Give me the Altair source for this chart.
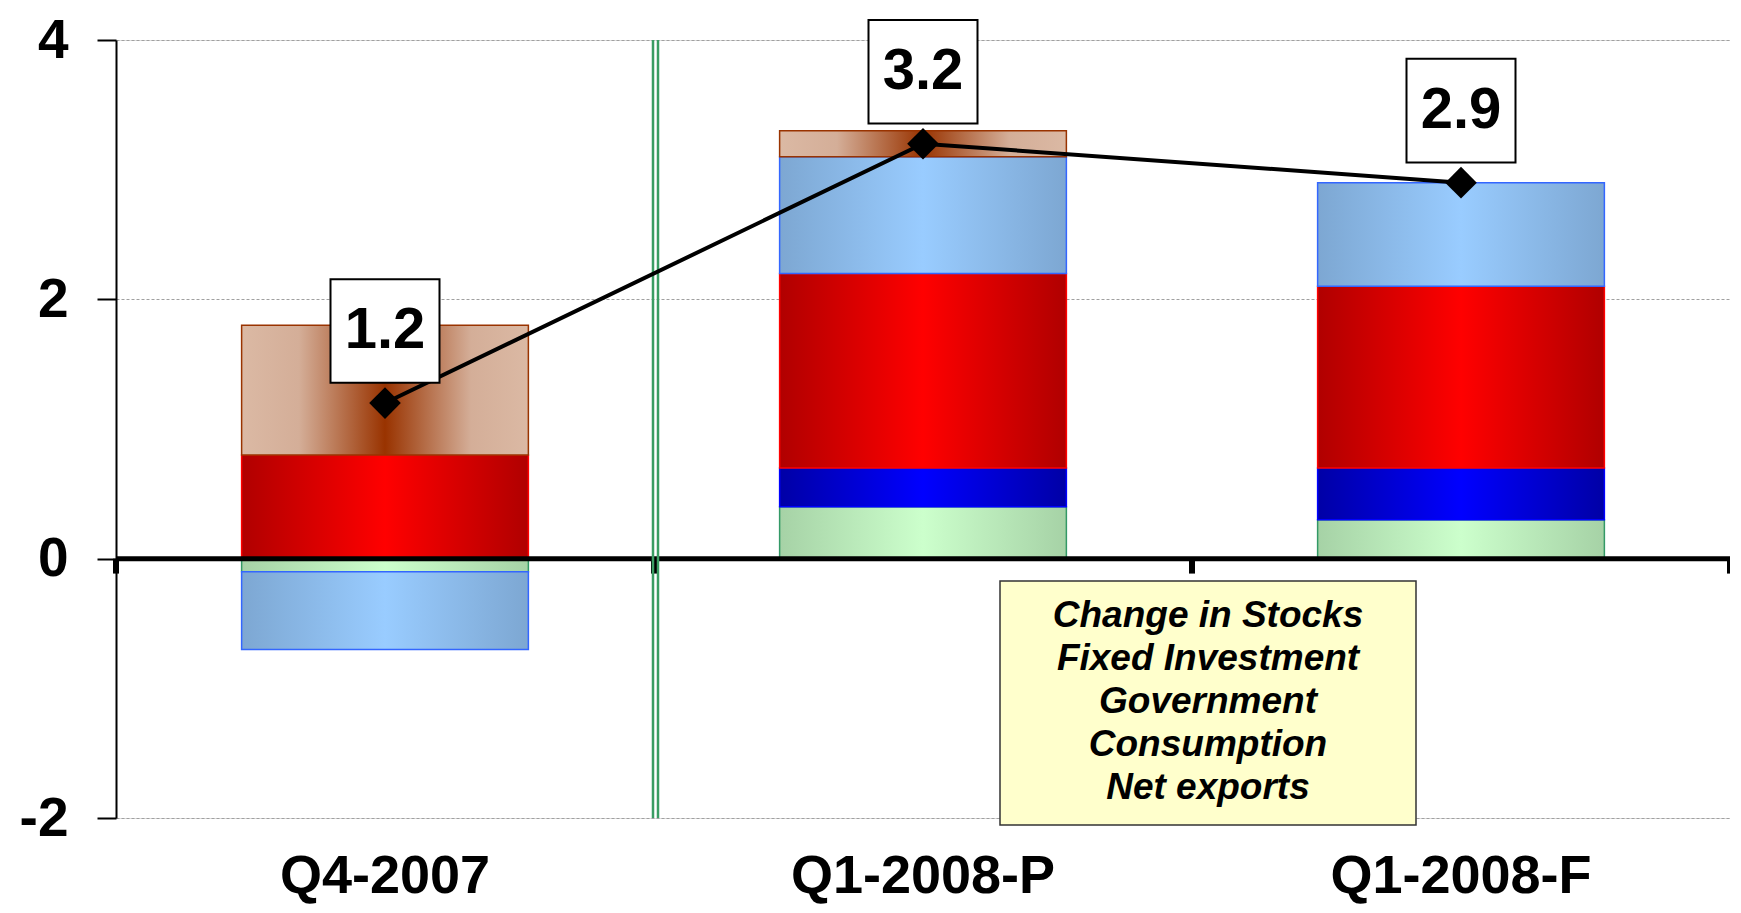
import altair as alt
import pandas as pd

# ---------------- data ----------------
categories = ["Q4-2007", "Q1-2008-P", "Q1-2008-F"]
net_exports = [-0.1, 0.4, 0.3]
consumption = [0.0, 0.3, 0.4]
government = [0.8, 1.5, 1.4]
fixed_investment = [-0.6, 0.9, 0.8]
change_in_stocks = [1.0, 0.2, 0.0]
gdp_growth = [1.2, 3.2, 2.9]
legend_labels = ["Change in Stocks", "Fixed Investment", "Government",
                 "Consumption", "Net exports"]
y_ticks = [-2, 0, 2, 4]

series_order = [
    ("Net exports", net_exports),
    ("Consumption", consumption),
    ("Government", government),
    ("Fixed Investment", fixed_investment),
    ("Change in Stocks", change_in_stocks),
]

# gradient stops (offset, colour) and outline colour per series
styles = {
    "Net exports": ([(0, "#A6D2A6"), (0.5, "#CCFFCC"), (1, "#A6D2A6")], "#339966"),
    "Consumption": ([(0, "#0000A6"), (0.5, "#0000FF"), (1, "#0000A6")], "#0000FF"),
    "Government": ([(0, "#B00000"), (0.5, "#FF0000"), (1, "#B00000")], "#FF0000"),
    "Fixed Investment": ([(0, "#7DA7D2"), (0.5, "#99CCFF"), (1, "#7DA7D2")], "#3366FF"),
    "Change in Stocks": ([(0, "#DBB9A4"), (0.2, "#D4AE98"), (0.5, "#993300"),
                          (0.8, "#D4AE98"), (1, "#DBB9A4")], "#993300"),
}

# stacked segments
rows = []
for i, c in enumerate(categories):
    pos, neg = 0.0, 0.0
    for name, vals in series_order:
        v = vals[i]
        if v == 0:
            continue
        if v > 0:
            y0, y1 = pos, pos + v
            pos = y1
        else:
            y0, y1 = neg, neg + v
            neg = y1
        rows.append(dict(category=c, series=name, value=v, y0=y0, y1=y1))
seg = pd.DataFrame(rows)
totals = pd.DataFrame({"category": categories, "gdp": gdp_growth})
cats = pd.DataFrame({"category": categories})

FONT = "Liberation Sans"
W, H = 1614, 778

xscale = alt.Scale(domain=categories, paddingInner=0, paddingOuter=0)
yscale = alt.Scale(domain=[-2, 4], nice=False, zero=False)
xaxis = alt.Axis(title=None, labelFontSize=54, labelFontWeight="bold", labelFont=FONT,
                 labelColor="black", labelPadding=31, labelLimit=600, domain=False,
                 ticks=False, grid=False, labelAngle=0)
yaxis = alt.Axis(title=None, values=y_ticks, labelExpr="'' + datum.value",
                 labelFontSize=55, labelFontWeight="bold", labelFont=FONT,
                 labelColor="black", labelPadding=29, tickSize=19, tickWidth=2,
                 tickColor="black", domainColor="black", domainWidth=2,
                 grid=True, gridColor="#A0A0A0", gridDash=[3, 2], gridWidth=1)

X = alt.X("category:N", scale=xscale, axis=xaxis, sort=categories)

layers = []
for name, _ in series_order:
    stops, stroke = styles[name]
    grad = alt.LinearGradient(
        gradient="linear",
        stops=[alt.GradientStop(color=col, offset=o) for o, col in stops],
        x1=0, x2=1, y1=0, y2=0,
    )
    layers.append(
        alt.Chart(seg[seg.series == name]).mark_bar(
            fill=grad, stroke=stroke, strokeWidth=1.5,
            width=alt.RelativeBandSize(0.533),
        ).encode(x=X, y=alt.Y("y0:Q", scale=yscale, axis=yaxis), y2="y1:Q")
    )

# zero line
zero = alt.Chart(pd.DataFrame({"z": [0]})).mark_rule(color="black", strokeWidth=5).encode(
    y=alt.Y("z:Q", scale=yscale, axis=yaxis)
)

# boundary ticks on the zero line
bticks = alt.Chart(cats).mark_rule(color="black", strokeWidth=6).encode(
    x=alt.X("category:N", scale=xscale, axis=xaxis, bandPosition=0, sort=categories),
    y=alt.datum(0), y2=alt.datum(-0.115),
)
bticks_end = alt.Chart(cats[cats.category == categories[-1]]).mark_rule(
    color="black", strokeWidth=6).encode(
    x=alt.X("category:N", scale=xscale, axis=xaxis, bandPosition=1, sort=categories),
    y=alt.datum(0), y2=alt.datum(-0.115),
)

# green double separator between actual and forecast
sep_data = cats[cats.category == categories[1]]
seps = [
    alt.Chart(sep_data).mark_rule(color="#3A9D63", strokeWidth=2.5, xOffset=off).encode(
        x=alt.X("category:N", scale=xscale, axis=xaxis, bandPosition=0, sort=categories),
        y=alt.datum(4), y2=alt.datum(-2),
    )
    for off in (-1, 4)
]

# legend box
legend_box = alt.Chart(pd.DataFrame({"k": [0]})).mark_rect(
    fill="#FFFFCC", stroke="#333333", strokeWidth=1.5
).encode(x=alt.value(884), x2=alt.value(1300), y=alt.value(541), y2=alt.value(785))
legend_text = alt.Chart(pd.DataFrame({"k": [0]})).mark_text(
    text=legend_labels, font=FONT, fontSize=37, fontWeight="bold", fontStyle="italic",
    align="center", baseline="middle", lineHeight=43, color="black",
).encode(x=alt.value(1092), y=alt.value(576))

# GDP line, diamonds, label boxes
line = alt.Chart(totals).mark_line(color="black", strokeWidth=4).encode(
    x=X, y=alt.Y("gdp:Q", scale=yscale, axis=yaxis)
)
pts = alt.Chart(totals).mark_point(
    shape="diamond", filled=True, color="black", size=1000, opacity=1
).encode(x=X, y=alt.Y("gdp:Q", scale=yscale, axis=yaxis))
boxes = alt.Chart(totals).mark_point(
    shape="M -1 -0.95 L 1 -0.95 L 1 0.95 L -1 0.95 Z", size=109 * 109,
    filled=True, color="white", stroke="black", strokeWidth=2, opacity=1, yOffset=-72,
).encode(x=X, y=alt.Y("gdp:Q", scale=yscale, axis=yaxis))
labels = alt.Chart(totals).mark_text(
    font=FONT, fontSize=58, fontWeight="bold", color="black", dy=-72,
    align="center", baseline="middle",
).encode(x=X, y=alt.Y("gdp:Q", scale=yscale, axis=yaxis),
         text=alt.Text("gdp:Q", format=".1f"))

chart = alt.layer(
    *layers, zero, bticks, bticks_end, *seps, legend_box, legend_text,
    line, pts, boxes, labels
).properties(
    width=W, height=H,
    autosize=alt.AutoSizeParams(type="none"),
    padding={"left": 108, "top": 32, "right": 0, "bottom": 87},
    background="white",
).configure_view(stroke=None).configure(font=FONT)

chart.save("out.html", embed_options={"renderer": "svg", "actions": False})
